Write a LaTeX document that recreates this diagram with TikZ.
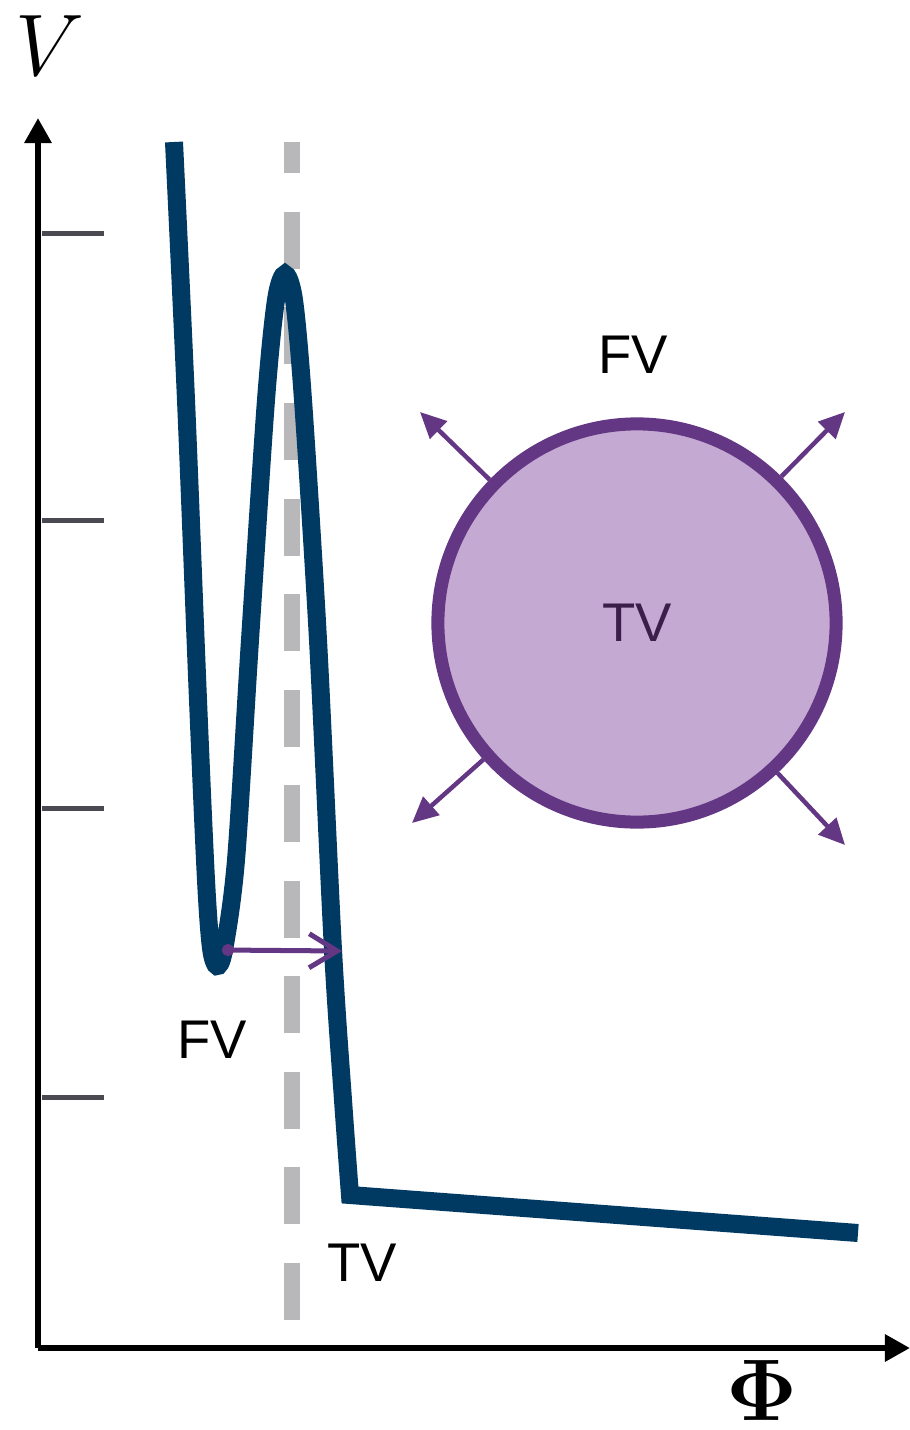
\documentclass[tikz,border=0pt]{standalone}
\usepackage[no-math]{fontspec}
\setmainfont{Liberation Sans}
\usepackage{amsmath}
\usetikzlibrary{arrows.meta, positioning}
\definecolor{navy}{HTML}{003A63}
\definecolor{dashgray}{HTML}{B8B8BA}
\definecolor{tickgray}{HTML}{4B4A52}
\definecolor{plum}{HTML}{633784}
\definecolor{lilac}{HTML}{C4AAD2}
\definecolor{plumtext}{HTML}{3B1F4A}

\begin{document}
\begin{tikzpicture}[
  x=0.01cm, y=-0.01cm,
  ax/.style={line width=0.06cm, -{Triangle[length=0.25cm, width=0.26cm]}},
  tk/.style={line width=0.05cm, tickgray},
  cv/.style={line width=0.18cm, navy, line join=miter},
  dl/.style={line width=0.16cm, dashgray, dash pattern=on 0.57cm off 0.385cm},
  lb/.style={font=\fontsize{15.5}{18}\selectfont, inner sep=0pt},
  bb/.style={circle, draw=plum, fill=lilac, line width=0.13cm, minimum size=3.98cm, inner sep=0pt},
  ex/.style={plum, line width=0.045cm, -{Triangle[length=0.26cm, width=0.24cm]}},
  hop/.style={plum, line width=0.05cm, {Circle[length=0.12cm]}-{Straight Barb[length=0.28cm, width=0.34cm]}}]
\useasboundingbox (0,0) rectangle (910,1430);

% ---- axes and ticks ----
\coordinate (o) at (38,1348);
\coordinate (ytip) at (38,118);
\coordinate (xtip) at (910,1348);
\draw[ax] (o) -- (ytip);
\draw[ax] (o) -- (xtip);
\foreach \ty in {233,520,808,1097}
  \draw[tk] (42,\ty) -- (104,\ty);
\node[inner sep=0pt] (vlab) at (50,46) {\fontsize{31}{33}\selectfont $V$};
\node[inner sep=0pt] (philab) at (762,1390) {\fontsize{23}{25}\selectfont $\mathbf{\Phi}$};

% ---- barrier line and potential ----
\coordinate (dbot) at (292,1320);
\coordinate (dtop) at (292,142);
\draw[dl] (dbot) -- (dtop);
\draw[cv] plot[smooth, tension=0.5] coordinates {(174,142) (186,400) (198,700) (206,880)
  (211,948) (217,966) (224,950) (236,860) (250,640) (266,400) (276,300) (285,274)
  (294,300) (303,400) (318,640) (333,950) (343,1100) (350,1195)} -- (858,1233);

% ---- tunnelling arrow and vacuum labels ----
\coordinate (fvmin) at (222,950);
\coordinate (tvhit) at (342,951);
\draw[hop] (fvmin) -- (tvhit);
\node[lb] (fvlow) at (212,1040) {FV};
\node[lb] (tvlow) at (362,1263) {TV};

% ---- expanding bubble ----
\node[bb] (bub) at (637,623) {};
\node[lb, text=plumtext] (tvin) at (bub) {TV};
\node[lb] (fvout) at (633,355) {FV};
\coordinate (nw) at (420,412);
\coordinate (ne) at (845,412);
\coordinate (sw) at (412,823);
\coordinate (se) at (845,845);
\foreach \tip in {nw,ne,sw,se}
  \draw[ex] (bub) -- (\tip);
\end{tikzpicture}
\end{document}
